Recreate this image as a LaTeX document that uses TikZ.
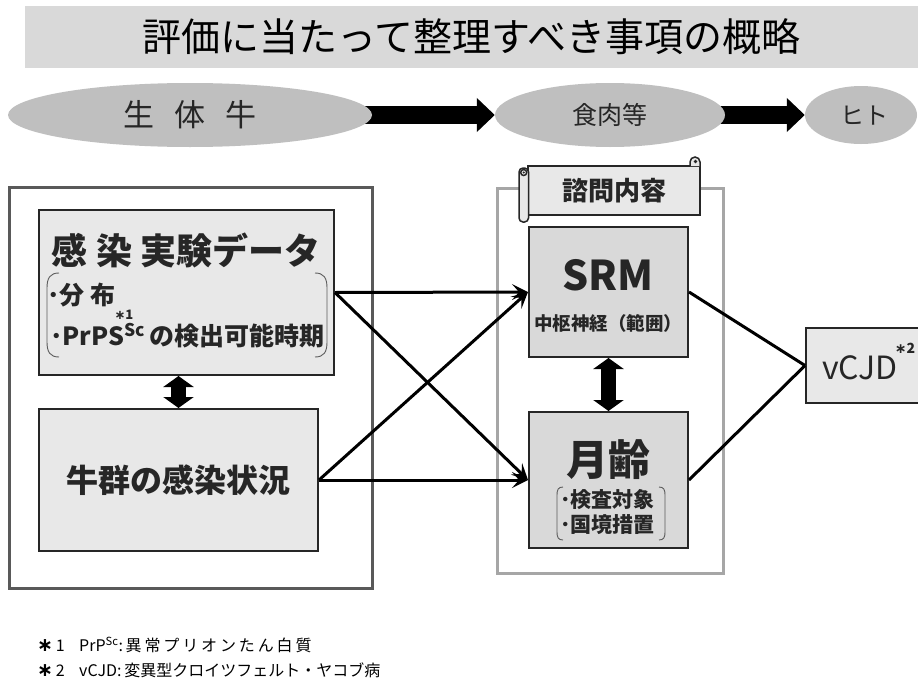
\documentclass[tikz,border=0pt]{standalone}
\usepackage{fontspec}
\setmainfont{Noto Sans CJK JP}
\newfontfamily\djv{DejaVu Sans}
\usetikzlibrary{shapes.geometric,arrows.meta,backgrounds}
\definecolor{ellgray}{HTML}{BFBFBF}
\definecolor{bangray}{HTML}{D9D9D9}
\definecolor{boxlight}{HTML}{E8E8E8}
\definecolor{boxmid}{HTML}{D9D9D9}
\definecolor{frameLc}{HTML}{595959}
\definecolor{frameRc}{HTML}{A6A6A6}
\definecolor{ink}{HTML}{262626}
\newcommand{\fsz}[1]{\fontsize{#1}{#1}\selectfont}
\newcommand{\myast}{{\djv\bfseries ∗}}
\begin{document}
\begin{tikzpicture}[x=1pt,y=-1pt,
  ell/.style={ellipse, fill=ellgray, inner sep=0pt, text=ink},
  panel/.style={rectangle, draw=ink, line width=2pt, inner sep=0pt, text=ink},
  frame/.style={rectangle, line width=3pt, inner sep=0pt},
  conn/.style={line width=3pt, draw=black, -{Stealth[length=16pt,width=16pt,inset=7pt]}},
  plainline/.style={line width=3pt, draw=black},
  fatarrow/.style={line width=18pt, draw=black, -{Triangle[length=18pt,width=33pt]}},
  dblarrow/.style={line width=15pt, draw=black, {Triangle[length=11pt,width=30pt]}-{Triangle[length=11pt,width=30pt]}},
  lab/.style={inner sep=0pt, text=ink},
  brk/.style={line width=0.9pt, draw=ink!75},
  rollstyle/.style={draw=ink, line width=1.5pt, fill=boxlight},
]
\useasboundingbox (0,0) rectangle (918,688);

% title banner
\node[rectangle, fill=bangray, minimum width=893pt, minimum height=62pt, inner sep=0pt,
      font=\fsz{39}, text=black] (banner) at (471.5,37) {評価に当たって整理すべき事項の概略};

% ellipses of the chain
\node[ell, minimum width=364pt, minimum height=64pt, font=\fsz{31}] (e1) at (190,115)
  {生\hspace{0.65em}体\hspace{0.65em}牛};
\node[ell, minimum width=230pt, minimum height=64pt, font=\fsz{25}] (e2) at (610,115) {食肉等};
\node[ell, minimum width=112pt, minimum height=58pt] (e3) at (861,115) {};
\node[lab, font=\fsz{24}] (e3t) at (864,116) {ヒト};

\begin{scope}[on background layer]
  \fill[white] (0,0) rectangle (918,688);
  \draw[fatarrow] (e1.center) -- (e2.west);
  \draw[fatarrow] (e2.center) -- (e3.west);
\end{scope}

% left group
\node[frame, draw=frameLc, minimum width=363pt, minimum height=401pt] (outerL) at (190.5,387.5) {};
\node[panel, fill=boxlight, minimum width=295pt, minimum height=165pt] (box1) at (186.5,292.5) {};
\node[lab, font=\bfseries\fsz{36}] (b1title) at (186,250) {感 染 実験データ};
\node[lab, font=\bfseries\fsz{25}, anchor=west] (b1l1) at (47,295) {･分\hspace{0.25em}布};
\node[lab, font=\bfseries\fsz{25}, anchor=west] (b1l2) at (50,336) {･PrPS\textsuperscript{Sc}\hspace{0.15em}の検出可能時期};
\node[lab, font=\bfseries\fsz{13}] (sup1) at (124,315) {\myast1};
\draw[brk] (59,273) .. controls (50,273) and (47,278) .. (47,288) -- (47,342)
  .. controls (47,352) and (50,357) .. (59,357);
\draw[brk] (315,273) .. controls (324,273) and (327,278) .. (327,288) -- (327,342)
  .. controls (327,352) and (324,357) .. (315,357);

\node[panel, fill=boxlight, minimum width=279pt, minimum height=142pt,
      font=\bfseries\fsz{32}] (box2) at (178.5,480) {牛群の感染状況};
\draw[dblarrow] (box1.south -| box2.north) -- (box2.north);

% right group
\node[frame, draw=frameRc, minimum width=226pt, minimum height=385pt] (frameR) at (610,380.5) {};
\node[rectangle, draw=ink, line width=1.5pt, fill=boxlight, minimum width=172pt, minimum height=49pt,
      inner sep=0pt, font=\bfseries\fsz{26}, text=ink] (scroll) at (614,190.5) {諮問内容};
\draw[rollstyle] (690,166) -- (690,162) arc[start angle=180, end angle=0, radius=5pt] -- (700,166);
\fill[ink] (695.5,161.5) circle (1.8pt);
\draw[rollstyle, rounded corners=4pt] (519,168) rectangle (528.5,222);
\draw[rollstyle] (523.7,172.5) circle (3pt);
\fill[ink] (523.7,172.5) circle (1.2pt);

\node[panel, fill=boxmid, minimum width=159pt, minimum height=130pt] (srm) at (608.5,292) {};
\node[lab, font=\bfseries\fsz{41}] (srmt) at (608,275) {SRM};
\node[lab, font=\bfseries\fsz{18.5}] (srms) at (608,323) {中枢神経（範囲）};

\node[panel, fill=boxmid, minimum width=159pt, minimum height=136pt] (age) at (608.5,480) {};
\node[lab, font=\bfseries\fsz{42}] (aget) at (608,460) {月齢};
\node[lab, font=\bfseries\fsz{21}, anchor=west] (agel1) at (560,500) {･検査対象};
\node[lab, font=\bfseries\fsz{21}, anchor=west] (agel2) at (560,525) {･国境措置};
\draw[brk] (563,487) .. controls (558,487) and (557,490) .. (557,495) -- (557,532)
  .. controls (557,537) and (558,540) .. (563,540);
\draw[brk] (659,487) .. controls (664,487) and (665,490) .. (665,495) -- (665,532)
  .. controls (665,537) and (664,540) .. (659,540);
\draw[dblarrow] (srm.south) -- (age.north);

\node[panel, fill=boxlight, minimum width=116pt, minimum height=75pt, anchor=west] (vcjd) at (805,365.5) {};
\node[lab, font=\fsz{32}] (vcjdt) at (860,368) {vCJD};
\node[lab, font=\bfseries\fsz{14}] (sup2) at (905,348) {\myast2};

% connectors
\draw[conn] (box1.east) -- (srm.west);
\draw[conn] (box1.east) -- (age.west);
\draw[conn] (box2.east) -- (age.west);
\draw[conn] (box2.east) -- (srm.west);
\draw[plainline] (srm.east) -- (vcjd.west);
\draw[plainline] (age.east) -- (vcjd.west);

% footnotes
\node[lab, anchor=west, font=\fsz{16}, text=black] (fn1) at (37,645)
  {\makebox[42pt][l]{{\fsz{19}\myast}\,1}PrP\textsuperscript{Sc}:\,{\addfontfeature{LetterSpace=18}異常プリオンたん白質}};
\node[lab, anchor=west, font=\fsz{16}, text=black] (fn2) at (37,670)
  {\makebox[42pt][l]{{\fsz{19}\myast}\,2}vCJD:\,変異型クロイツフェルト・ヤコブ病};
\end{tikzpicture}
\end{document}
